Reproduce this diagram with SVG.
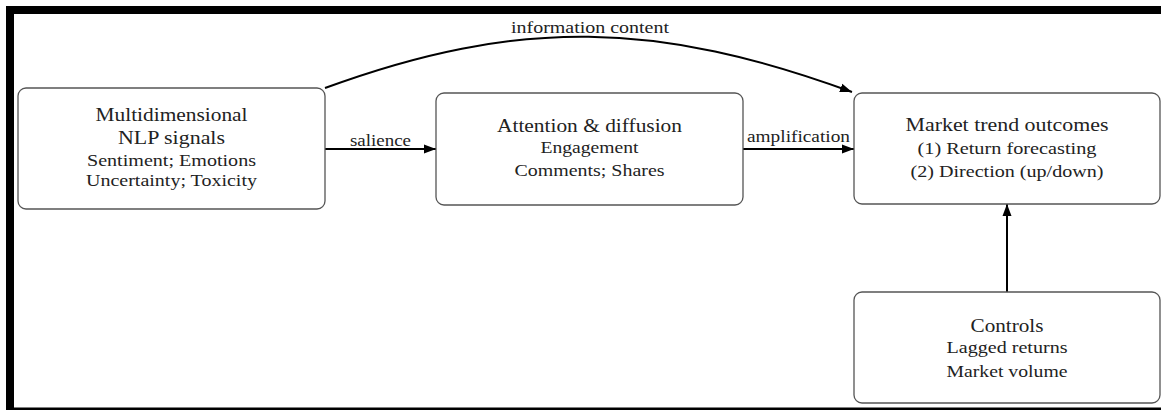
<svg xmlns="http://www.w3.org/2000/svg" width="1161" height="410" viewBox="0 0 1161 410">
<style>
  .box { fill: #ffffff; stroke: #555555; stroke-width: 1.3; }
  .t { font-family: "Liberation Serif", "DejaVu Serif", serif; fill: #222222; text-anchor: middle; }
  .h { font-size: 19px; }
  .s { font-size: 16px; }
  .edge { fill: none; stroke: #000000; stroke-width: 2; }
  .frame { fill: #000000; }
</style>
<defs>
  <marker id="arrow" markerUnits="userSpaceOnUse" markerWidth="13" markerHeight="10" refX="12" refY="5" orient="auto">
    <path d="M0,0.5 L12,5 L0,9.5 z" fill="#000000"/>
  </marker>
</defs>
<rect width="1161" height="410" fill="#ffffff"/>
<g id="frame">
  <rect class="frame" x="6" y="6" width="1155" height="8"/>
  <rect class="frame" x="6" y="6" width="8" height="404"/>
  <rect class="frame" x="6" y="407.5" width="1155" height="2.5"/>
</g>
<g id="connectors">
  <path class="edge" d="M325,88 C519,17 658,21 852,92" marker-end="url(#arrow)"/>
  <text class="t s" x="590" y="33" textLength="158" lengthAdjust="spacingAndGlyphs">information content</text>
  <line class="edge" x1="325" y1="149" x2="436" y2="149" marker-end="url(#arrow)"/>
  <text class="t s" x="380.5" y="146" textLength="61" lengthAdjust="spacingAndGlyphs">salience</text>
  <line class="edge" x1="743" y1="149" x2="854" y2="149" marker-end="url(#arrow)"/>
  <text class="t s" x="798.5" y="142" textLength="103" lengthAdjust="spacingAndGlyphs">amplification</text>
  <line class="edge" x1="1007" y1="292" x2="1007" y2="204" marker-end="url(#arrow)"/>
</g>
<g id="node-nlp">
  <rect class="box" x="18" y="88" width="307" height="121" rx="8"/>
  <text class="t h" x="171.5" y="120.5" textLength="152" lengthAdjust="spacingAndGlyphs">Multidimensional</text>
  <text class="t h" x="171.5" y="144" textLength="107" lengthAdjust="spacingAndGlyphs">NLP signals</text>
  <text class="t s" x="171.5" y="165.5" textLength="169" lengthAdjust="spacingAndGlyphs">Sentiment; Emotions</text>
  <text class="t s" x="171.5" y="186" textLength="171" lengthAdjust="spacingAndGlyphs">Uncertainty; Toxicity</text>
</g>
<g id="node-attention">
  <rect class="box" x="436" y="93" width="307" height="112" rx="8"/>
  <text class="t h" x="589.5" y="131.5" textLength="185" lengthAdjust="spacingAndGlyphs">Attention &amp; diffusion</text>
  <text class="t s" x="589.5" y="153" textLength="98" lengthAdjust="spacingAndGlyphs">Engagement</text>
  <text class="t s" x="589.5" y="176" textLength="150" lengthAdjust="spacingAndGlyphs">Comments; Shares</text>
</g>
<g id="node-market">
  <rect class="box" x="854" y="93" width="306" height="111" rx="8"/>
  <text class="t h" x="1007" y="131" textLength="203" lengthAdjust="spacingAndGlyphs">Market trend outcomes</text>
  <text class="t s" x="1007" y="154" textLength="179" lengthAdjust="spacingAndGlyphs">(1) Return forecasting</text>
  <text class="t s" x="1007" y="176.5" textLength="193" lengthAdjust="spacingAndGlyphs">(2) Direction (up/down)</text>
</g>
<g id="node-controls">
  <rect class="box" x="854" y="292" width="306" height="111" rx="8"/>
  <text class="t h" x="1007" y="331.5" textLength="73" lengthAdjust="spacingAndGlyphs">Controls</text>
  <text class="t s" x="1007" y="353" textLength="121" lengthAdjust="spacingAndGlyphs">Lagged returns</text>
  <text class="t s" x="1007" y="376.5" textLength="121" lengthAdjust="spacingAndGlyphs">Market volume</text>
</g>
</svg>
